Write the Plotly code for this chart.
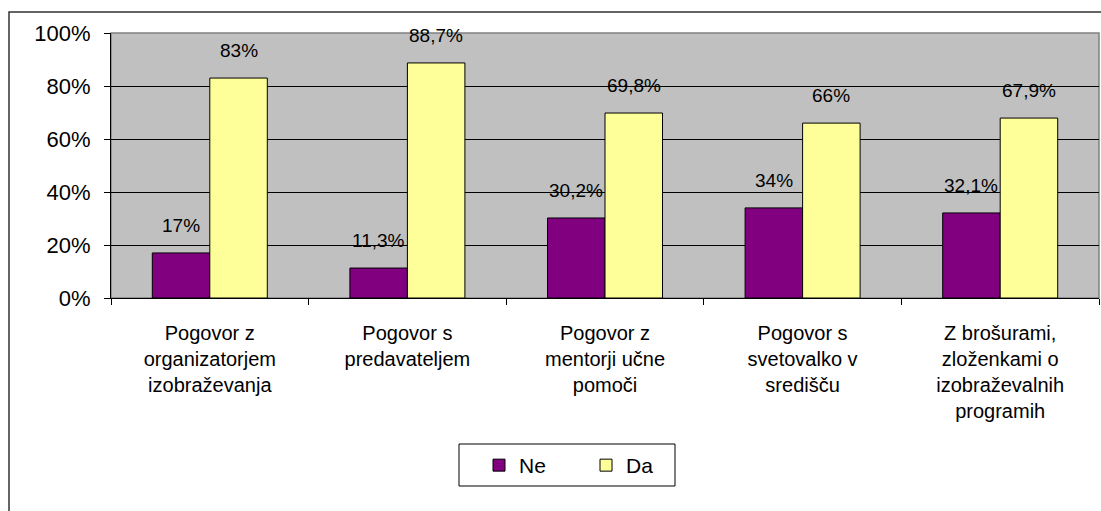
import plotly.graph_objects as go

categories = [
    "Pogovor z<br>organizatorjem<br>izobraževanja",
    "Pogovor s<br>predavateljem",
    "Pogovor z<br>mentorji učne<br>pomoči",
    "Pogovor s<br>svetovalko v<br>središču",
    "Z brošurami,<br>zloženkami o<br>izobraževalnih<br>programih",
]
ne_values = [17, 11.3, 30.2, 34, 32.1]
da_values = [83, 88.7, 69.8, 66, 67.9]
series_names = ["Ne", "Da"]
y_ticks = [0, 20, 40, 60, 80, 100]


def fmt(v):
    s = ("%g" % v).replace(".", ",")
    return s + "%"


W, H = 1101, 511
L, R, T, B = 111, 2, 33, 213
pw = W - L - R
ph = H - T - B
bargap = 0.418
cat_w = pw / len(categories)
bar_w = cat_w * (1 - bargap) / 2
FONT = "Liberation Sans, Arial"


def px_x(px):
    return (px - L) / pw


def px_y(py):
    return (T + ph - py) / ph


fig = go.Figure()
fig.add_trace(go.Bar(
    x=categories, y=ne_values, name=series_names[0],
    marker=dict(color="#800080", line=dict(color="black", width=1)),
))
fig.add_trace(go.Bar(
    x=categories, y=da_values, name=series_names[1],
    marker=dict(color="#FFFF99", line=dict(color="black", width=1)),
))

annotations = []
for vals, shift in ((ne_values, -bar_w / 2), (da_values, bar_w / 2)):
    for c, v in zip(categories, vals):
        annotations.append(dict(
            x=c, y=v, xref="x", yref="y", text=fmt(v), showarrow=False,
            xshift=shift, yshift=15, yanchor="bottom",
            font=dict(family=FONT, size=19, color="black"),
        ))

fig.update_layout(
    width=W, height=H,
    margin=dict(l=L, r=R, t=T, b=B, pad=0),
    paper_bgcolor="white",
    plot_bgcolor="#C0C0C0",
    barmode="group",
    bargap=bargap,
    bargroupgap=0,
    font=dict(family=FONT, size=20, color="black"),
    annotations=annotations,
    showlegend=True,
    legend=dict(
        orientation="h",
        x=px_x(479), y=px_y(445),
        xanchor="left", yanchor="top",
        borderwidth=0,
        bgcolor="rgba(0,0,0,0)",
        font=dict(size=21),
        itemwidth=30,
        entrywidth=62,
    ),
    shapes=[
        dict(type="rect", xref="paper", yref="paper",
             x0=px_x(9), x1=px_x(W + 20),
             y0=px_y(H + 20), y1=px_y(12),
             line=dict(color="#333333", width=1.5), layer="below"),
        dict(type="rect", xref="paper", yref="paper",
             x0=0, x1=1, y0=0, y1=1,
             line=dict(color="#808080", width=1.5), layer="below"),
        dict(type="rect", xref="paper", yref="paper",
             x0=px_x(459), x1=px_x(675), y0=px_y(486), y1=px_y(444),
             line=dict(color="black", width=1), fillcolor="white", layer="below"),
    ],
)

fig.update_xaxes(
    showgrid=False,
    showline=True, linecolor="black", linewidth=1,
    ticks="outside", tickson="boundaries", ticklen=6, tickcolor="black",
    tickfont=dict(size=20),
    ticklabelstandoff=17,
)
fig.update_yaxes(
    range=[0, 100],
    tickvals=y_ticks,
    ticktext=[f"{t}%" for t in y_ticks],
    showgrid=True, gridcolor="black", gridwidth=1,
    showline=True, linecolor="black", linewidth=1,
    ticks="outside", ticklen=6, tickcolor="black",
    tickfont=dict(size=22),
    ticklabelstandoff=9,
    zeroline=False,
)

fig.write_html("out.html", config={"displayModeBar": False},
               post_script="document.body.style.margin='0';")
